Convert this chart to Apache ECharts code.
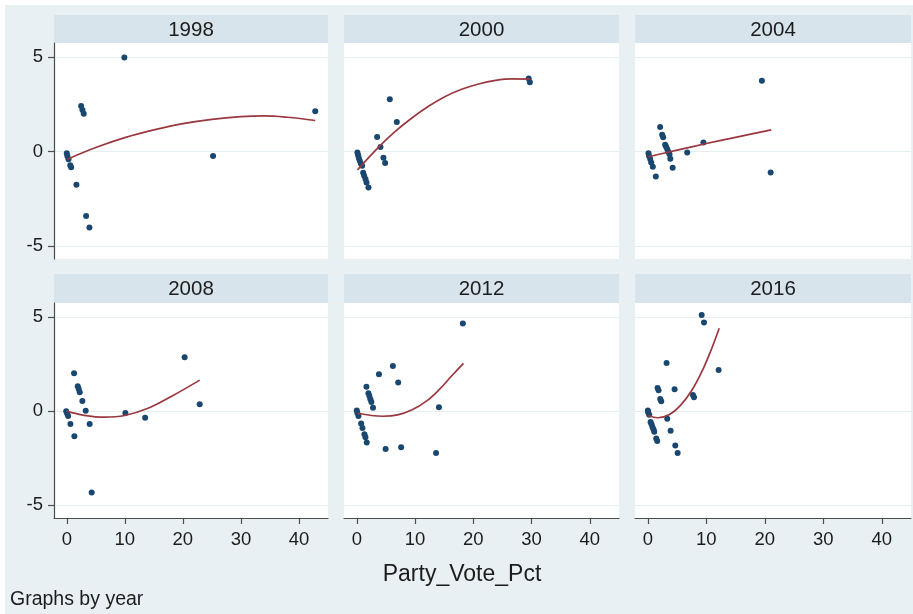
<!DOCTYPE html>
<html><head><meta charset="utf-8">
<script src="https://cdn.jsdelivr.net/npm/echarts@6/dist/echarts.min.js"></script>
<style>html,body{margin:0;padding:0;background:#fff}#c{width:913px;height:614px}</style>
</head><body><div id="c"></div>
<script>
// ---- data ----
const years = ['1998', '2000', '2004', '2008', '2012', '2016'];
const xTicks = [0, 10, 20, 30, 40];
const yTicks = [-5, 0, 5];
const xTitle = 'Party_Vote_Pct';
const noteText = 'Graphs by year';

const pts1998 = [[0,-0.09],[0.1,-0.23],[0.3,-0.4],[0.6,-0.72],[0.75,-0.83],[1.66,-1.75],[2.47,2.42],[2.7,2.21],[2.92,2.01],[3.33,-3.41],[3.9,-4.01],[9.92,4.98],[25.2,-0.23],[42.8,2.14]];
const fit1998 = [[0.1,-0.4],[5,0.22],[10,0.74],[15,1.15],[20,1.48],[25,1.71],[30,1.85],[34,1.89],[38,1.82],[42.8,1.65]];

const pts2000 = [[0.1,-0.05],[0.23,-0.19],[0.34,-0.34],[0.5,-0.48],[0.69,-0.62],[0.91,-0.74],[1.09,-1.11],[1.26,-1.27],[1.49,-1.45],[1.66,-1.63],[2.0,-1.89],[3.49,0.78],[4.06,0.25],[4.57,-0.32],[4.86,-0.6],[5.66,2.77],[6.86,1.57],[29.5,3.87],[29.7,3.67]];
const fit2000 = [[0.1,-0.97],[3.7,0.23],[6.5,1.05],[9.4,1.77],[12.3,2.4],[15.1,2.91],[18,3.3],[20.9,3.58],[23.8,3.77],[26.6,3.85],[29.7,3.84]];

const pts2004 = [[0.1,-0.09],[0.2,-0.23],[0.4,-0.39],[0.57,-0.57],[0.85,-0.8],[1.36,-1.31],[2.1,1.31],[2.44,0.9],[2.61,0.76],[2.95,0.37],[3.1,0.27],[3.3,0.14],[3.5,0.0],[3.7,-0.14],[3.84,-0.37],[4.24,-0.85],[6.73,-0.05],[9.5,0.48],[19.5,3.75],[21.0,-1.1]];
const fit2004 = [[0.1,-0.27],[5,0.08],[10,0.43],[15,0.76],[21.1,1.15]];

const pts2008 = [[-0.1,0],[0.06,-0.12],[0.23,-0.26],[0.63,-0.68],[1.26,2.02],[1.31,-1.33],[1.89,1.32],[2.06,1.18],[2.23,1.0],[2.69,0.54],[3.26,0.02],[3.94,-0.68],[4.29,-4.32],[10.1,-0.1],[13.5,-0.35],[20.3,2.86],[22.9,0.37]];
const fit2008 = [[0,0],[3,-0.22],[6.5,-0.32],[10,-0.23],[14,0.15],[18,0.78],[22.9,1.65]];

const pts2012 = [[0,0.04],[0.1,-0.1],[0.28,-0.26],[0.74,-0.65],[0.97,-0.9],[1.31,-1.23],[1.48,-1.39],[1.7,-1.66],[1.65,1.3],[1.99,0.95],[2.16,0.81],[2.33,0.63],[2.5,0.49],[2.78,0.18],[3.8,1.96],[4.94,-2.01],[6.19,2.4],[7.1,1.52],[7.61,-1.92],[13.6,-2.22],[14.1,0.21],[18.2,4.66]];
const fit2012 = [[0.17,-0.11],[2.5,-0.23],[4.5,-0.27],[7,-0.2],[9.5,0.07],[12,0.55],[14,1.1],[16.3,1.88],[18.3,2.54]];

const pts2016 = [[0,0.04],[0.06,-0.07],[0.23,-0.19],[0.46,-0.58],[0.63,-0.7],[0.8,-0.85],[0.97,-0.97],[1.09,-1.09],[1.43,-1.46],[1.6,-1.59],[1.66,1.23],[1.83,1.11],[2.11,0.65],[2.29,0.53],[3.2,2.56],[3.31,-0.41],[3.89,-1.04],[4.57,1.16],[4.69,-1.83],[5.09,-2.22],[7.71,0.86],[7.89,0.74],[9.2,5.11],[9.6,4.71],[12.1,2.19]];
const fit2016 = [[0.06,-0.23],[1.7,-0.35],[3.7,-0.18],[5.5,0.28],[7.5,1.1],[9.5,2.28],[11,3.4],[12.2,4.41]];

const points = [pts1998, pts2000, pts2004, pts2008, pts2012, pts2016];
const fits = [fit1998, fit2000, fit2004, fit2008, fit2012, fit2016];

// ---- layout ----
const FONT = 'Liberation Sans, Arial, Helvetica, sans-serif';
const cols = [{left: 54, width: 274}, {left: 344, width: 275}, {left: 635, width: 276}];
const rows = [{top: 43, height: 216, head: 15}, {top: 303, height: 215, head: 274}];
const X_MIN = -2.2, X_MAX = 45, Y_MIN = -5.68, Y_MAX = 5.75;
const AX = '#4d4d4d', TXT = '#1c1c1c';

const grids = [], xAxes = [], yAxes = [], series = [], graphics = [];
graphics.push({type: 'rect', shape: {x: 5, y: 5, width: 908, height: 609}, style: {fill: '#e9f0f3'}, z: -10});

years.forEach((yr, i) => {
  const r = Math.floor(i / 3), c = i % 3;
  const col = cols[c], row = rows[r];
  const bottom = r === 1, left = c === 0;
  grids.push({left: col.left, top: row.top, width: col.width, height: row.height,
    show: true, backgroundColor: '#ffffff', borderWidth: 0, containLabel: false});
  xAxes.push({gridIndex: i, type: 'value', min: X_MIN, max: X_MAX,
    axisLine: {show: bottom, onZero: false, lineStyle: {color: AX, width: 1.2}},
    axisTick: {show: bottom, customValues: xTicks, length: 6, lineStyle: {color: AX, width: 1.2}},
    axisLabel: {show: bottom, customValues: xTicks, fontSize: 18.5, color: TXT, fontFamily: FONT, margin: 12},
    splitLine: {show: false}});
  yAxes.push({gridIndex: i, type: 'value', min: Y_MIN, max: Y_MAX,
    axisLine: {show: left, onZero: false, lineStyle: {color: AX, width: 1.2}},
    axisTick: {show: left, customValues: yTicks, length: 6, lineStyle: {color: AX, width: 1.2}},
    axisLabel: {show: left, customValues: yTicks, fontSize: 18.5, color: TXT, fontFamily: FONT, margin: 11},
    splitLine: {show: true, lineStyle: {color: '#e5eef1', width: 1.2}}});
  series.push({type: 'scatter', xAxisIndex: i, yAxisIndex: i, data: points[i],
    symbol: 'circle', symbolSize: 6, itemStyle: {color: '#1a476f', opacity: 1}, z: 3, silent: true});
  series.push({type: 'line', xAxisIndex: i, yAxisIndex: i, data: fits[i], smooth: 0.4,
    showSymbol: false, lineStyle: {color: '#9a3840', width: 1.7}, z: 4, silent: true});
  graphics.push({type: 'rect', shape: {x: col.left, y: row.head, width: col.width, height: row.top - row.head},
    style: {fill: '#d8e4eb'}});
  graphics.push({type: 'text', x: col.left + col.width / 2, y: row.head + (row.top - row.head) / 2 + 1,
    style: {text: yr, font: '20.5px ' + FONT, fill: TXT, align: 'center', verticalAlign: 'middle'}});
});
graphics.push({type: 'text', x: 462, y: 575,
  style: {text: xTitle, font: '23px ' + FONT, fill: TXT, align: 'center', verticalAlign: 'middle'}});
graphics.push({type: 'text', x: 10, y: 600,
  style: {text: noteText, font: '19.5px ' + FONT, fill: TXT, align: 'left', verticalAlign: 'middle'}});

const chart = echarts.init(document.getElementById('c'));
chart.setOption({
  animation: false,
  backgroundColor: '#ffffff',
  grid: grids, xAxis: xAxes, yAxis: yAxes, series: series, graphic: graphics
});
</script></body></html>
